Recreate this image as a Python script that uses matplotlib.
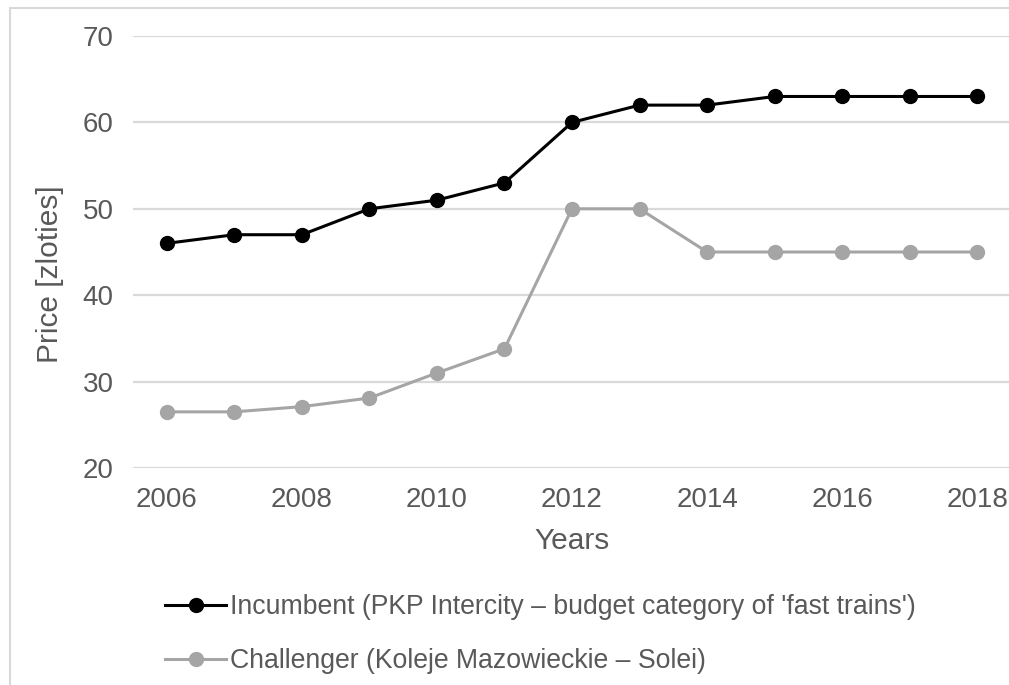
import matplotlib
matplotlib.use("Agg")
import matplotlib.pyplot as plt
from matplotlib.patches import Rectangle

years = [2006, 2007, 2008, 2009, 2010, 2011, 2012, 2013, 2014, 2015, 2016, 2017, 2018]
incumbent = [46, 47, 47, 50, 51, 53, 60, 62, 62, 63, 63, 63, 63]
challenger = [26.5, 26.5, 27.1, 28.1, 31.0, 33.8, 50, 50, 45, 45, 45, 45, 45]
incumbent_label = "Incumbent (PKP Intercity \u2013 budget category of 'fast trains')"
challenger_label = "Challenger (Koleje Mazowieckie \u2013 Solei)"
x_ticks = [2006, 2008, 2010, 2012, 2014, 2016, 2018]
y_ticks = [20, 30, 40, 50, 60, 70]

plt.rcParams['font.family'] = ['Liberation Sans', 'DejaVu Sans']
text_color = '#595959'
W, H = 1009, 685
fig = plt.figure(figsize=(W / 100, H / 100), dpi=100)

# chart frame
fig.patches.append(Rectangle((10 / W, -0.1), 1.2, 1 - 8 / H + 0.1, transform=fig.transFigure,
                             fill=False, edgecolor='#d9d9d9', linewidth=1.5))

ax = fig.add_axes([133 / W, 1 - 468 / H, (1011 - 133) / W, (468 - 36) / H])
ax.set_xlim(2005.5, 2018.5)
ax.set_ylim(20, 70)
ax.set_xticks(x_ticks)
ax.set_yticks(y_ticks)
ax.tick_params(length=0, labelsize=20, labelcolor=text_color)
ax.tick_params(axis='y', pad=14)
ax.tick_params(axis='x', pad=13.5)
for s in ax.spines.values():
    s.set_visible(False)
ax.grid(axis='y', color='#d9d9d9', linewidth=1.6)
ax.set_axisbelow(True)

l1, = ax.plot(years, incumbent, color='black', linewidth=2.2, marker='o', markersize=10,
              label=incumbent_label, clip_on=False, zorder=3)
l2, = ax.plot(years, challenger, color='#a5a5a5', linewidth=2.2, marker='o', markersize=10,
              label=challenger_label, clip_on=False, zorder=3)

fig.text(572 / W, 1 - 549 / H, 'Years', ha='center', va='baseline', fontsize=21.5,
         color=text_color)
fig.text(50 / W, 1 - 274 / H, 'Price [zloties]', ha='center', va='center', rotation=90,
         fontsize=21.5, color=text_color)

leg = fig.legend(handles=[l1, l2], loc='upper left', bbox_to_anchor=(165 / W, 1 - 594 / H),
                 frameon=False, fontsize=19.2, handlelength=2.3, handletextpad=0.15,
                 labelspacing=1.06, borderaxespad=0, borderpad=0)
for t in leg.get_texts():
    t.set_color(text_color)

fig.savefig('out.png', dpi=100)
